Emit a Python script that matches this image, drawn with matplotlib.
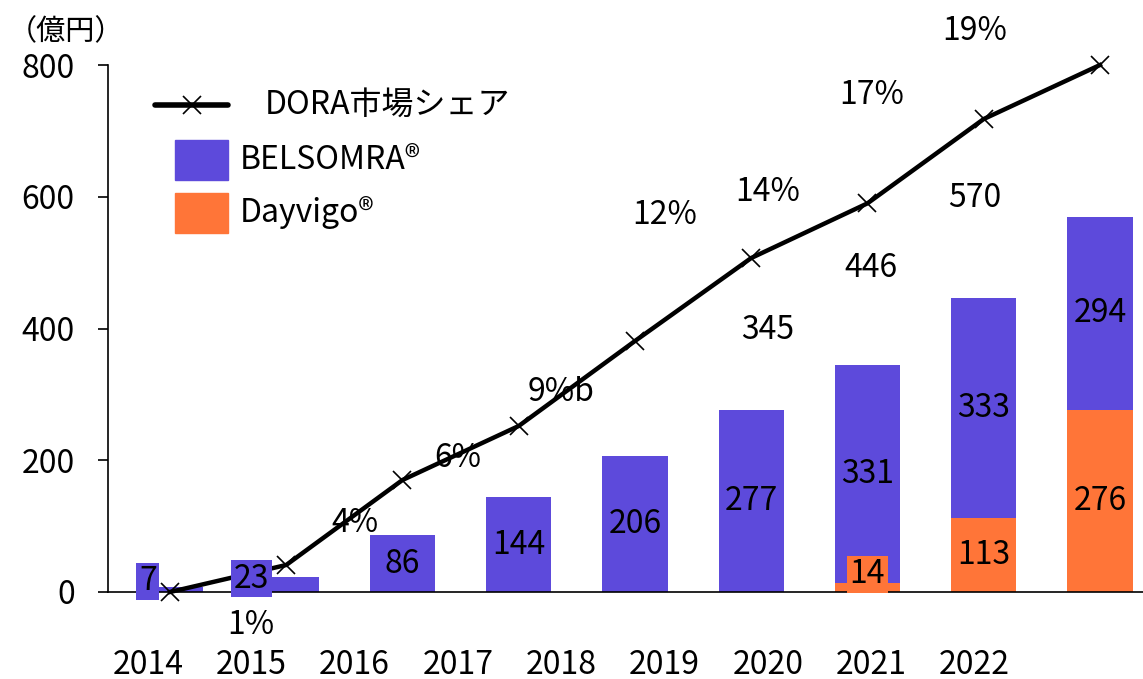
import matplotlib
matplotlib.use("Agg")
import matplotlib.pyplot as plt
import matplotlib.patches as mpatches
import numpy as np

plt.rcParams['font.family'] = ['Noto Sans CJK JP', 'DejaVu Sans']

# --- dane ---
lata = ["2014", "2015", "2016", "2017", "2018", "2019", "2020", "2021", "2022"]
belsomra = [7, 23, 86, 144, 206, 277, 331, 333, 294]
dayvigo = [0, 0, 0, 0, 0, 0, 14, 113, 276]
dora_linia = [0, 41, 170, 252, 381, 507, 590, 718, 800]
udzial = ["", "1%", "4%", "6%", "9%b", "12%", "14%", "17%", "19%"]
sumy = ["", "", "", "", "", "", "345", "446", "570"]

fioletowy = "#5D4ADB"
pomaranczowy = "#FF7538"

fig = plt.figure(figsize=(11.43, 6.79), dpi=100)
ax = fig.add_axes([108 / 1143, 87 / 679, 1 - 108 / 1143, 527 / 679])

x = np.arange(len(lata))
ax.bar(x, dayvigo, width=0.56, color=pomaranczowy, zorder=2)
ax.bar(x, belsomra, width=0.56, bottom=dayvigo, color=fioletowy, zorder=2)
ax.plot(x, dora_linia, color="black", lw=3.2, marker="x", ms=13, mew=1.2,
        zorder=4, clip_on=False)

fs = 23
# --- etykiety segmentow ---
for i in range(len(lata)):
    b, d = belsomra[i], dayvigo[i]
    if i == 0:
        ax.text(-0.19, 16, str(b), ha="center", va="center", fontsize=fs, zorder=5,
                bbox=dict(boxstyle="square,pad=0.08", fc=fioletowy, ec="none"))
    elif i == 1:
        ax.text(0.70, 20, str(b), ha="center", va="center", fontsize=fs, zorder=5,
                bbox=dict(boxstyle="square,pad=0.08", fc=fioletowy, ec="none"))
    else:
        ax.text(i, d + b / 2, str(b), ha="center", va="center", fontsize=fs, zorder=5)
    if d > 0:
        if d < 30:
            ax.text(i, 27, str(d), ha="center", va="center", fontsize=fs, zorder=5,
                    bbox=dict(boxstyle="square,pad=0.08", fc=pomaranczowy, ec="none"))
        else:
            ax.text(i, d / 2, str(d), ha="center", va="center", fontsize=fs, zorder=5)

# --- udzial % i sumy (pozycje jak w oryginale) ---
lab_x = -0.19 + 0.889 * x
udzial_y = [0, -50, 105, 203, 303, 572, 607, 754, 852]
for i in range(1, len(lata)):
    ax.text(lab_x[i], udzial_y[i], udzial[i], ha="center", va="center",
            fontsize=fs, clip_on=False, zorder=6)
sumy_y = [0, 0, 0, 0, 0, 0, 398, 492, 598]
for i in range(len(lata)):
    if sumy[i]:
        ax.text(lab_x[i], sumy_y[i], sumy[i], ha="center", va="center", fontsize=fs)

# --- osie ---
ax.set_xlim(-0.533, 8.37)
ax.set_ylim(0, 800)
ax.set_yticks([0, 200, 400, 600, 800])
ax.tick_params(axis="y", labelsize=fs, length=7, width=1.2, pad=17)
ax.set_xticks(lab_x)
ax.set_xticklabels(lata, fontsize=fs)
ax.tick_params(axis="x", length=0, pad=41)
for s in ["top", "right"]:
    ax.spines[s].set_visible(False)
ax.spines["left"].set_linewidth(1.2)
ax.spines["bottom"].set_linewidth(1.2)
fig.text(8 / 1143, 1 - 32 / 679, "（億円）", fontsize=21, va="center", ha="left")

# --- legenda (rysowana recznie) ---
def fx(px):
    return (px - 108) / 1035

def fy(py):
    return (592 - py) / 527

tr = ax.transAxes
ax.plot([fx(155), fx(228)], [fy(105), fy(105)], transform=tr, color="black",
        lw=4, solid_capstyle="round", clip_on=False, zorder=6)
ax.plot([fx(192)], [fy(105)], transform=tr, color="black", marker="x", ms=13,
        mew=1.2, clip_on=False, zorder=6)
ax.text(fx(265), fy(105), "DORA市場シェア", transform=tr, fontsize=fs, va="center")
for py, kolor, nazwa in [(160, fioletowy, "BELSOMRA®"), (213, pomaranczowy, "Dayvigo®")]:
    ax.add_patch(mpatches.Rectangle((fx(175), fy(py + 20)), fx(228) - fx(175),
                                    40 / 527, transform=tr, color=kolor,
                                    clip_on=False, zorder=6))
    ax.text(fx(240), fy(py), nazwa, transform=tr, fontsize=fs, va="center")

fig.savefig("out.png", dpi=100)
